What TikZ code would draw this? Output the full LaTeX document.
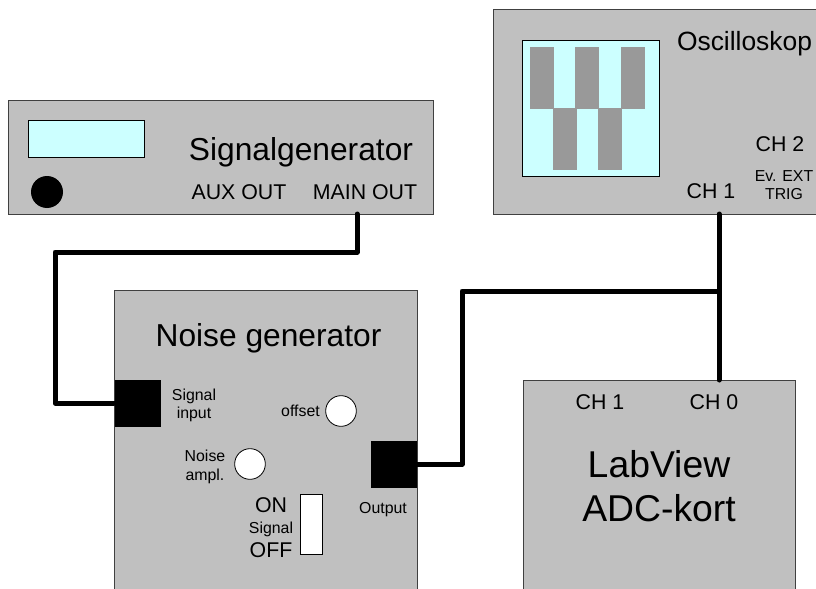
\documentclass[tikz,border=0pt]{standalone}
\usepackage{fontspec}
\setmainfont{Liberation Sans}
\definecolor{panel}{HTML}{C0C0C0}
\definecolor{lcd}{HTML}{CCFFFF}
\definecolor{bar}{HTML}{999999}
\definecolor{edge}{HTML}{404040}
\newcommand{\fs}[1]{\fontsize{#1}{#1}\selectfont}
\tikzset{
 x=0.75pt,y=-0.75pt,
 panelbox/.style={draw=edge,line width=0.75pt,fill=panel,anchor=north west,inner sep=0pt,outer sep=0pt},
 lcdbox/.style={draw=black,line width=0.6pt,fill=lcd,anchor=north west,inner sep=0pt,outer sep=0pt},
 barbox/.style={fill=bar,anchor=north west,inner sep=0pt,outer sep=0pt,minimum width=18pt,minimum height=46.5pt},
 port/.style={fill=black,anchor=north west,inner sep=0pt,outer sep=0pt,minimum width=34.5pt,minimum height=35pt},
 knob/.style={circle,draw=black,line width=0.6pt,fill=white,inner sep=0pt,outer sep=0pt,minimum size=23pt},
 lbl/.style={inner sep=0pt,outer sep=0pt,align=center,text=black},
 big/.style={lbl,font=\fs{23.8pt}},
 huge/.style={lbl,font=\fs{28pt}},
 title/.style={lbl,font=\fs{19.8pt}},
 mid/.style={lbl,font=\fs{16pt}},
 small/.style={lbl,font=\fs{11.9pt}},
 wire/.style={line width=3.75pt,line join=round,line cap=round,draw=black},
}
\begin{document}
\begin{tikzpicture}
\useasboundingbox (0,0) rectangle (816,588);
\clip (0,0) rectangle (816,588);
% Oscilloscope
\node[panelbox,minimum width=246pt,minimum height=153pt] (osc) at (493,10) {};
\node[lcdbox,minimum width=102.5pt,minimum height=102pt] (screen) at (522.5,40.5) {};
\node[barbox] (b1) at (530,47) {};
\node[barbox] (b2) at (575,47) {};
\node[barbox] (b3) at (621,47) {};
\node[barbox] (b4) at (553,108) {};
\node[barbox] (b5) at (598,108) {};
\node[title] (osct) at (744.5,43.5) {Oscilloskop};
\node[mid] (och2) at (780,144) {CH 2};
\node[small] (oev) at (784,176) {Ev. EXT};
\node[small] (otr) at (784,194) {TRIG};
\node[mid] (och1) at (711,191) {CH 1};
% Signal generator
\node[panelbox,minimum width=318.75pt,minimum height=85.5pt] (sg) at (8,100.5) {};
\node[lcdbox,minimum width=87pt,minimum height=28pt] (disp) at (28,120) {};
\node[circle,fill=black,inner sep=0pt,outer sep=0pt,minimum size=24pt] (dial) at (47,192) {};
\node[big] (sgt) at (301,152.5) {Signalgenerator};
\node[mid] (aux) at (239,192) {AUX OUT};
\node[mid] (main) at (365,192) {MAIN OUT};
% Noise generator
\node[panelbox,minimum width=227pt,minimum height=240pt] (ng) at (114.5,290.5) {};
\node[big] (ngt) at (268.5,338.5) {Noise generator};
\node[port] (sin) at (114.5,380) {};
\node[port] (sout) at (371,441) {};
\node[small] (sl1) at (194,396.5) {Signal};
\node[small] (sl2) at (194,414.5) {input};
\node[small] (offl) at (300.5,411) {offset};
\node[knob] (off) at (341,411) {};
\node[small] (nl1) at (205,456) {Noise};
\node[small] (nl2) at (205,476) {ampl.};
\node[knob] (noi) at (250,464) {};
\node[panelbox,draw=black,fill=white,minimum width=17pt,minimum height=45.5pt] (sw) at (300,494) {};
\node[mid] (on) at (271,505) {ON};
\node[small] (sig) at (271,529) {Signal};
\node[mid] (offt) at (271,550) {OFF};
\node[small] (outl) at (383,509.5) {Output};
% LabView
\node[panelbox,minimum width=204pt,minimum height=180pt] (lv) at (523.5,380.5) {};
\node[mid] (c1) at (600,402) {CH 1};
\node[mid] (c0) at (714,402) {CH 0};
\node[huge] (lv1) at (659,464) {LabView};
\node[huge] (lv2) at (659,508) {ADC-kort};
% Connectors
\coordinate (mainp) at (357,214);
\coordinate (s1) at (55,252);
\coordinate (oscp) at (719,214);
\coordinate (lvp) at (719,380);
\coordinate (junc) at (719,291);
\coordinate (s2) at (462,291);
\draw[wire] (mainp) |- (s1) |- (sin.west|-0,403) -- (sin);
\draw[wire] (sout) -| (s2) -- (junc);
\draw[wire] (oscp) -- (junc) -- (lvp);
\end{tikzpicture}
\end{document}
